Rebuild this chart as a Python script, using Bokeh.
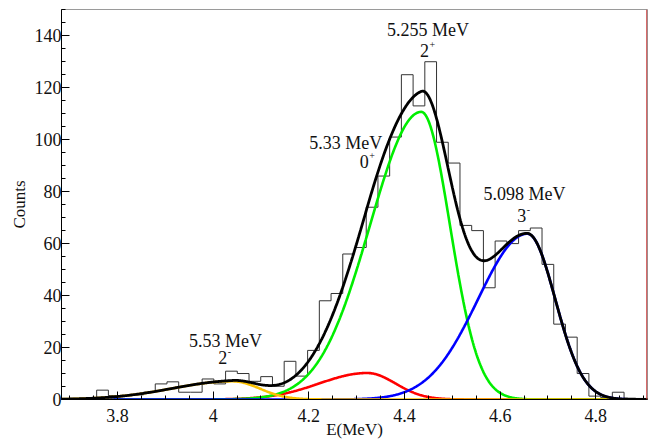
import numpy as np
from bokeh.plotting import figure
from bokeh.models import SingleIntervalTicker, CustomJSTickFormatter, Span, Range1d
from bokeh.embed import file_html
from bokeh.resources import INLINE

# ---------------- data ----------------
bin_start = 3.683
bin_width = 0.0245
counts = [0.4, 0.4, 0.4, 3.6, 1.5, 1.5, 1.8, 2.8, 6.0, 6.8,
          2.8, 2.8, 7.9, 6.0, 10.9, 10.0, 7.0, 8.8, 5.1, 14.7,
          9.0, 18.9, 38.0, 40.8, 56.0, 58.5, 74.0, 86.0, 101.0, 125.0,
          113.0, 130.0, 99.0, 91.0, 67.0, 65.0, 43.0, 61.0, 60.0, 65.0,
          66.0, 52.0, 29.0, 24.0, 10.0, 1.3, 0.8, 2.8, 0.5, 0.4]

# fitted peak components (split Gaussians: centre, height, left/right widths)
peak_centers = [4.041, 4.322, 4.435, 4.657]
peak_heights = [7.0, 10.2, 110.7, 63.8]
peak_sigma_left = [0.127, 0.100, 0.107, 0.103]
peak_sigma_right = [0.056, 0.059, 0.060, 0.058]
peak_colors = ["#fbc000", "#ff0000", "#00ee00", "#0000ff"]

label_x = [4.026, 4.277, 4.449, 4.651]
label_y = [22.6, 98.8, 142.4, 79.2]
label_text = ["5.53 MeV", "5.33 MeV", "5.255 MeV", "5.098 MeV"]
spin_x = [4.020, 4.316, 4.442, 4.645]
spin_y = [16.1, 91.5, 134.4, 70.8]
spin_text = ["2", "0", "2", "3"]
parity_text = ["-", "+", "+", "-"]

x_title = "E(MeV)"
y_title = "Counts"

x_lo, x_hi = 3.683, 4.908
y_lo, y_hi = 0.0, 150.1

FONT = "Liberation Serif"

p = figure(width=648, height=441, output_backend="svg", toolbar_location=None,
           x_range=Range1d(x_lo, x_hi), y_range=Range1d(y_lo, y_hi),
           min_border_left=61, min_border_right=1, min_border_top=9, min_border_bottom=41)
p.grid.visible = False
p.outline_line_color = "#9a9a9a"
p.outline_line_width = 1

# histogram
edges = bin_start + bin_width * np.arange(len(counts) + 1)
p.step(x=edges, y=list(counts) + [counts[-1]], mode="after", line_color="#333333", line_width=1)

# fit curves
xx = np.linspace(x_lo, x_hi, 800)
total = np.zeros_like(xx)
comps = []
for c, h, sl, sr in zip(peak_centers, peak_heights, peak_sigma_left, peak_sigma_right):
    s = np.where(xx < c, sl, sr)
    y = h * np.exp(-0.5 * ((xx - c) / s) ** 2)
    comps.append(y)
    total += y

order = [1, 2, 3, 0]
for i in order:
    p.line(xx, comps[i], line_color=peak_colors[i], line_width=2.6)
p.line(xx, total, line_color="black", line_width=2.8)

# labels
p.text(x=label_x, y=label_y, text=label_text, text_font=FONT, text_font_size="18px",
       text_align="center", text_baseline="middle", text_color="#111111")
p.text(x=spin_x, y=spin_y, text=spin_text, text_font=FONT, text_font_size="18px",
       text_align="center", text_baseline="middle", text_color="#111111")
p.text(x=spin_x, y=spin_y, text=parity_text, text_font=FONT, text_font_size="10px",
       text_align="left", text_baseline="middle", x_offset=5, y_offset=-6, text_color="#111111")

# right border
p.add_layout(Span(location=x_hi - 0.0015, dimension="height", line_color="#c83030", line_width=1))

# axes
p.xaxis.ticker = SingleIntervalTicker(interval=0.2, num_minor_ticks=4)
p.yaxis.ticker = SingleIntervalTicker(interval=20, num_minor_ticks=4)
p.xaxis.formatter = CustomJSTickFormatter(code="return tick.toFixed(1).replace(/\\.0$/, '');")
for ax in (p.xaxis[0], p.yaxis[0]):
    ax.major_tick_in = 8
    ax.major_tick_out = 0
    ax.minor_tick_in = 4
    ax.minor_tick_out = 0
    ax.axis_line_color = "black"
    ax.major_tick_line_color = "black"
    ax.minor_tick_line_color = "black"
    ax.major_label_text_font = FONT
    ax.major_label_text_font_size = "18px"
    ax.major_label_text_color = "#111111"
    ax.axis_label_text_font = FONT
    ax.axis_label_text_font_size = "17px"
    ax.axis_label_text_font_style = "normal"
    ax.axis_label_text_color = "#111111"
p.xaxis.axis_label = x_title
p.yaxis.axis_label = y_title
p.xaxis.major_label_standoff = 9
p.xaxis.axis_label_standoff = -5
p.yaxis.major_label_standoff = 0
p.yaxis.axis_label_standoff = 3

open("out.html", "w").write(file_html(p, INLINE))
